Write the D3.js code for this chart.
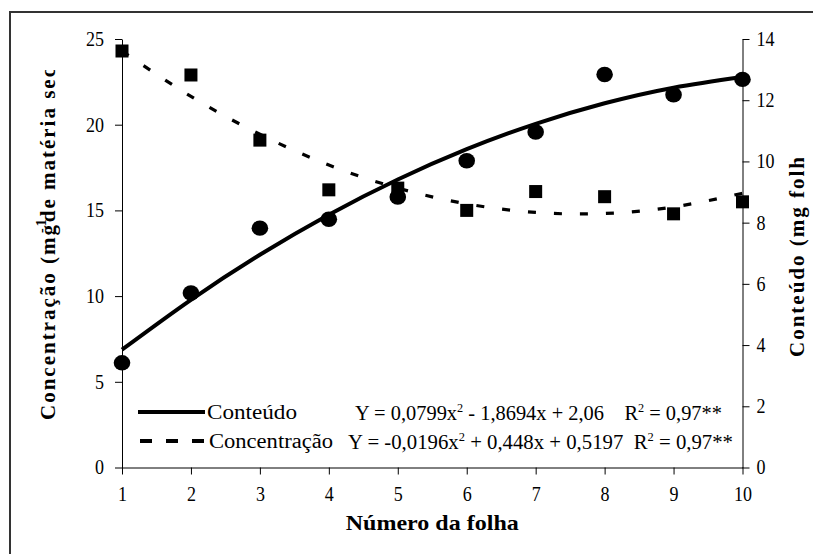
<!DOCTYPE html>
<html>
<head>
<meta charset="utf-8">
<script src="https://cdn.jsdelivr.net/npm/d3@7"></script>
<style>
  body { margin: 0; background: #fff; }
  svg text { font-family: "Liberation Serif", "Times New Roman", serif; fill: #000; white-space: pre; }
</style>
</head>
<body>
<div id="chart"></div>
<script>
// leaf number (x axis)
var folhas = [1, 2, 3, 4, 5, 6, 7, 8, 9, 10];
// squares, left axis
var concentracao = [24.3, 22.9, 19.1, 16.2, 16.3, 15.0, 16.1, 15.8, 14.8, 15.5];
// circles, right axis
var conteudo = [3.42, 5.70, 7.82, 8.11, 8.84, 10.02, 10.96, 12.84, 12.18, 12.68];
// trend lines at each leaf
var concentracaoTrend = [24.3, 21.65, 19.44, 17.65, 16.3, 15.38, 14.88, 14.82, 15.2, 16.0];
var conteudoTrend = [3.85, 5.48, 6.95, 8.26, 9.41, 10.40, 11.23, 11.90, 12.41, 12.76];

var leftTicks = [0, 5, 10, 15, 20, 25];
var rightTicks = [0, 2, 4, 6, 8, 10, 12, 14];

var width = 813, height = 554;

var svg = d3.select("#chart").append("svg")
    .attr("width", width)
    .attr("height", height);

// outer frame (only top and left edges fall inside the picture)
svg.append("path")
    .attr("d", "M10," + height + "V12H" + width)
    .attr("fill", "none")
    .attr("stroke", "#333")
    .attr("stroke-width", 2);

var x = d3.scaleLinear().domain([1, 10]).range([122, 742.5]);
var yL = d3.scaleLinear().domain([0, 25]).range([467.5, 39]);
var yR = d3.scaleLinear().domain([0, 14]).range([467.5, 39]);

// axes
var gx = svg.append("g")
    .attr("transform", "translate(0," + yL(0) + ")")
    .call(d3.axisBottom(x).tickValues(folhas).tickSize(7).tickSizeOuter(0).tickPadding(12));

var gl = svg.append("g")
    .attr("transform", "translate(" + x(1) + ",0)")
    .call(d3.axisLeft(yL).tickValues(leftTicks).tickSize(7).tickSizeOuter(0).tickPadding(11));

var gr = svg.append("g")
    .attr("transform", "translate(" + x(10) + ",0)")
    .call(d3.axisRight(yR).tickValues(rightTicks).tickSize(7).tickSizeOuter(0).tickPadding(7));

[gx, gl, gr].forEach(function (g) {
    g.selectAll("text")
        .style("font-size", "20px")
        .style("font-family", "Liberation Serif")
        .attr("textLength", function (d) { return String(d).length * 9; })
        .attr("lengthAdjust", "spacingAndGlyphs");
    g.selectAll("line").attr("stroke", "#000");
    g.select(".domain").attr("stroke", "#000");
});

// trend lines
var pts = function (arr) { return folhas.map(function (f, i) { return [f, arr[i]]; }); };

svg.append("path")
    .datum(pts(concentracaoTrend))
    .attr("fill", "none")
    .attr("stroke", "#000")
    .attr("stroke-width", 3.2)
    .attr("stroke-dasharray", "8,18")
    .attr("d", d3.line().curve(d3.curveNatural)
        .x(function (d) { return x(d[0]); })
        .y(function (d) { return yL(d[1]); }));

svg.append("path")
    .datum(pts(conteudoTrend))
    .attr("fill", "none")
    .attr("stroke", "#000")
    .attr("stroke-width", 4)
    .attr("d", d3.line().curve(d3.curveNatural)
        .x(function (d) { return x(d[0]); })
        .y(function (d) { return yR(d[1]); }));

// markers
svg.selectAll(".sq")
    .data(pts(concentracao))
    .enter().append("rect")
    .attr("class", "sq")
    .attr("x", function (d) { return x(d[0]) - 6.5; })
    .attr("y", function (d) { return yL(d[1]) - 6.5; })
    .attr("width", 13)
    .attr("height", 13)
    .attr("fill", "#000");

svg.selectAll(".ci")
    .data(pts(conteudo))
    .enter().append("ellipse")
    .attr("class", "ci")
    .attr("cx", function (d) { return x(d[0]); })
    .attr("cy", function (d) { return yR(d[1]); })
    .attr("rx", 8.3)
    .attr("ry", 7.7)
    .attr("fill", "#000");

// legend
svg.append("line")
    .attr("x1", 138).attr("x2", 205).attr("y1", 412).attr("y2", 412)
    .attr("stroke", "#000").attr("stroke-width", 4);
svg.append("line")
    .attr("x1", 140).attr("x2", 205).attr("y1", 441).attr("y2", 441)
    .attr("stroke", "#000").attr("stroke-width", 4)
    .attr("stroke-dasharray", "12,14");

svg.append("text").attr("x", 207).attr("y", 419)
    .style("font-size", "20px").attr("textLength", 90).attr("lengthAdjust", "spacingAndGlyphs")
    .text("Conteúdo");
svg.append("text").attr("x", 209).attr("y", 448)
    .style("font-size", "20px").attr("textLength", 124).attr("lengthAdjust", "spacingAndGlyphs")
    .text("Concentração");

function equation(xp, yp, len, a, b, r) {
    var t = svg.append("text").attr("x", xp).attr("y", yp).style("font-size", "20px")
        .attr("textLength", len).attr("lengthAdjust", "spacingAndGlyphs");
    t.append("tspan").text("Y = " + a + "x");
    t.append("tspan").attr("dy", -8).style("font-size", "12px").text("2");
    t.append("tspan").attr("dy", 8).text(b + r);
    t.append("tspan").attr("dy", -8).style("font-size", "12px").text("2");
    t.append("tspan").attr("dy", 8).text(" = 0,97**");
}
equation(355, 420, 367, "0,0799", " - 1,8694x + 2,06    ", "R");
equation(348, 449, 385, "-0,0196", " + 0,448x + 0,5197  ", "R");

// axis titles
svg.append("text")
    .attr("x", x(5.5)).attr("y", 530)
    .attr("text-anchor", "middle")
    .style("font-size", "21px").style("font-weight", "bold")
    .attr("textLength", 173).attr("lengthAdjust", "spacingAndGlyphs")
    .text("Número da folha");

svg.append("clipPath").attr("id", "clipL")
    .append("rect").attr("x", 0).attr("y", 70).attr("width", 120).attr("height", 480);
var lt = svg.append("g").attr("clip-path", "url(#clipL)")
    .append("text")
    .attr("transform", "translate(55,420) rotate(-90)")
    .style("font-size", "21px").style("font-weight", "bold").style("letter-spacing", "2px");
lt.append("tspan").text("Concentração (mg");
lt.append("tspan").attr("dx", -10).attr("dy", -9).style("font-size", "14px").text("-1");
lt.append("tspan").attr("dx", -5).attr("dy", 9).text("de matéria seca)");

svg.append("clipPath").attr("id", "clipR")
    .append("rect").attr("x", 770).attr("y", 158).attr("width", 43).attr("height", 300);
svg.append("g").attr("clip-path", "url(#clipR)")
    .append("text")
    .attr("transform", "translate(804,357) rotate(-90)")
    .style("font-size", "21px").style("font-weight", "bold").style("letter-spacing", "2px")
    .text("Conteúdo (mg folha)");
</script>
</body>
</html>
